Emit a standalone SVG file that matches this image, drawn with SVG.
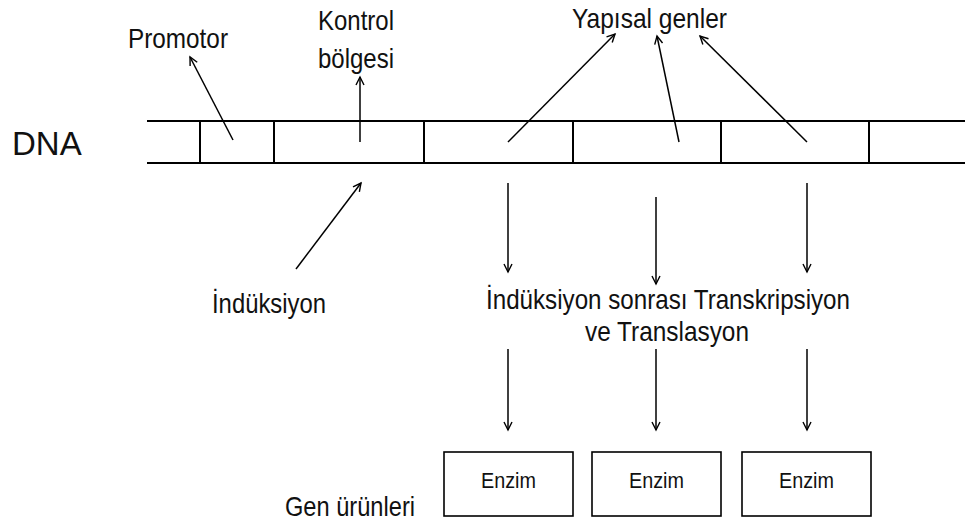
<svg xmlns="http://www.w3.org/2000/svg" width="965" height="521" viewBox="0 0 965 521">
<defs>
<marker id="ah" markerUnits="userSpaceOnUse" markerWidth="12" markerHeight="12" refX="9" refY="5" orient="auto">
<path d="M1,1 L9,5 L1,9" fill="none" stroke="#000" stroke-width="1.4"/>
</marker>
<style>
text{font-family:"Liberation Sans",Arial,sans-serif;fill:#111;}
.lbl{font-size:28px;}
.en{font-size:22px;text-anchor:middle;}
.ar{stroke:#000;stroke-width:1.5;fill:none;marker-end:url(#ah);}
.box{fill:#fff;stroke:#000;stroke-width:1.6;}
.strip{stroke:#000;stroke-width:2;fill:none;}
</style>
</defs>
<rect width="965" height="521" fill="#fff"/>
<g id="dna">
<text x="12" y="155" font-size="33">DNA</text>
<path class="strip" d="M147,121 H965 M147,163 H965 M200,121 V163 M274,121 V163 M424,121 V163 M573,121 V163 M721,121 V163 M869,121 V163"/>
</g>
<g id="promotor"><text class="lbl" x="128" y="48" textLength="100" lengthAdjust="spacingAndGlyphs">Promotor</text></g>
<g id="kontrol">
<text class="lbl" x="318" y="30" textLength="76" lengthAdjust="spacingAndGlyphs">Kontrol</text>
<text class="lbl" x="318" y="68" textLength="76" lengthAdjust="spacingAndGlyphs">bölgesi</text>
</g>
<g id="yapisal"><text class="lbl" x="572" y="28" textLength="155" lengthAdjust="spacingAndGlyphs">Yapısal genler</text></g>
<g id="induksiyon"><text class="lbl" x="212" y="313" textLength="114" lengthAdjust="spacingAndGlyphs">İndüksiyon</text></g>
<g id="surec">
<text class="lbl" x="486" y="309" textLength="364" lengthAdjust="spacingAndGlyphs">İndüksiyon sonrası Transkripsiyon</text>
<text class="lbl" x="585" y="341" textLength="164" lengthAdjust="spacingAndGlyphs">ve Translasyon</text>
</g>
<g id="gen-urunleri"><text class="lbl" x="285" y="516" textLength="130" lengthAdjust="spacingAndGlyphs">Gen ürünleri</text></g>
<g id="enzim1"><rect class="box" x="444" y="452" width="129" height="64"/><text class="en" x="508.5" y="488" textLength="55" lengthAdjust="spacingAndGlyphs">Enzim</text></g>
<g id="enzim2"><rect class="box" x="592" y="452" width="129" height="64"/><text class="en" x="656.5" y="488" textLength="55" lengthAdjust="spacingAndGlyphs">Enzim</text></g>
<g id="enzim3"><rect class="box" x="742" y="452" width="129" height="64"/><text class="en" x="806.5" y="488" textLength="55" lengthAdjust="spacingAndGlyphs">Enzim</text></g>
<g id="connectors">
<line class="ar" x1="233" y1="140" x2="190" y2="57"/>
<line class="ar" x1="360" y1="142" x2="360" y2="77"/>
<line class="ar" x1="296" y1="269" x2="361" y2="183"/>
<line class="ar" x1="508" y1="142" x2="615" y2="34"/>
<line class="ar" x1="679" y1="142" x2="657" y2="36"/>
<line class="ar" x1="807" y1="142" x2="700" y2="36"/>
<line class="ar" x1="508" y1="183" x2="508" y2="272"/>
<line class="ar" x1="656" y1="197" x2="656" y2="284"/>
<line class="ar" x1="807" y1="183" x2="807" y2="272"/>
<line class="ar" x1="508" y1="349" x2="508" y2="430"/>
<line class="ar" x1="656" y1="349" x2="656" y2="430"/>
<line class="ar" x1="807" y1="349" x2="807" y2="430"/>
</g>
</svg>
